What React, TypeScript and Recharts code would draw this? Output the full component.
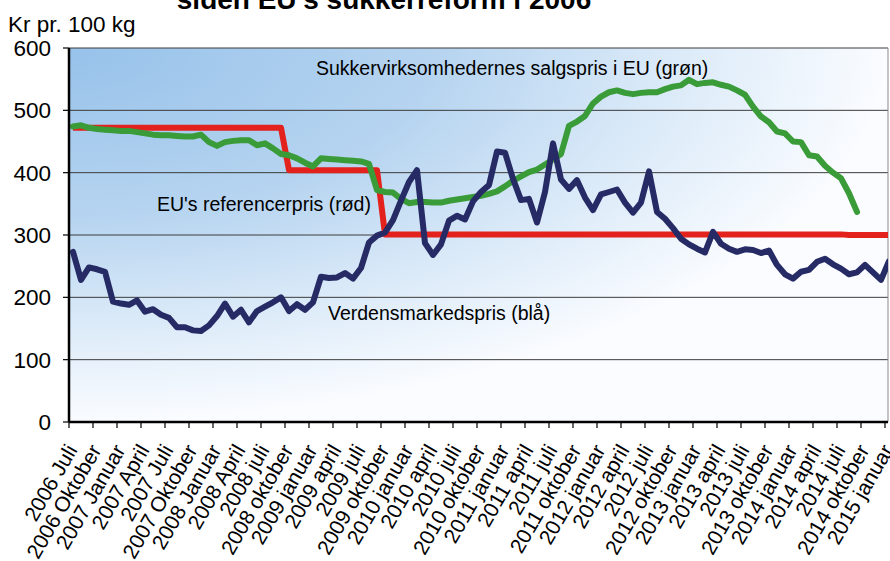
import React from 'react';
import { LineChart, Line, XAxis, YAxis, CartesianGrid, ReferenceLine } from 'recharts';

const FONT = '"Liberation Sans", Arial, sans-serif';

// quarterly tick labels, one per 3 months
const tickLabels = [
  '2006 Juli', '2006 Oktober', '2007 Januar', '2007 April', '2007 Juli', '2007 Oktober',
  '2008 Januar', '2008 April', '2008 juli', '2008 oktober', '2009 januar', '2009 april',
  '2009 juli', '2009 oktober', '2010 januar', '2010 april', '2010 juli', '2010 oktober',
  '2011 januar', '2011 april', '2011 juli', '2011 oktober', '2012 januar', '2012 april',
  '2012 juli', '2012 oktober', '2013 januar', '2013 april', '2013 juli', '2013 oktober',
  '2014 januar', '2014 april', '2014 juli', '2014 oktober', '2015 januar',
];

// monthly values, Kr pr. 100 kg, from juli 2006
const worldPrice = [
  273, 228, 248, 245, 241, 193, 190, 188, 195, 177, 181, 172, 167, 152, 152, 147, 146, 155,
  170, 190, 169, 180, 160, 178, 185, 192, 200, 178, 189, 180, 192, 233, 231, 232, 239, 230,
  247, 288, 299, 304, 324, 355, 385, 404, 287, 268, 285, 323, 331, 325, 354, 369, 380, 434,
  432, 390, 356, 358, 320, 369, 447, 389, 374, 388, 360, 340, 365, 369, 373, 352, 336, 352,
  402, 337, 326, 311, 294, 285, 278, 272, 305, 286, 278, 273, 277, 276, 271, 275, 252, 237,
  230, 241, 244, 257, 262, 253, 246, 237, 240, 252, 240, 228, 258,
];

const refPrice = [
  472, 472, 472, 472, 472, 472, 472, 472, 472, 472, 472, 472, 472, 472, 472, 472, 472, 472,
  472, 472, 472, 472, 472, 472, 472, 472, 472, 404, 404, 404, 404, 404, 404, 404, 404, 404,
  404, 404, 404, 301, 301, 301, 301, 301, 301, 301, 301, 301, 301, 301, 301, 301, 301, 301,
  301, 301, 301, 301, 301, 301, 301, 301, 301, 301, 301, 301, 301, 301, 301, 301, 301, 301,
  301, 301, 301, 301, 301, 301, 301, 301, 301, 301, 301, 301, 301, 301, 301, 301, 301, 301,
  301, 301, 301, 301, 301, 301, 301, 300, 300, 300, 300, 300, 300,
];

const euPrice = [
  474, 476, 472, 470, 469, 468, 467, 467, 465, 463, 461, 460, 460, 459, 458, 458, 461, 449,
  443, 449, 451, 452, 452, 444, 447, 439, 430, 428, 423, 416, 410, 423, 422, 421, 420, 419,
  418, 414, 372, 369, 368, 358, 351, 353, 353, 352, 352, 355, 357, 359, 361, 363, 366, 370,
  378, 387, 394, 401, 405, 413, 421, 430, 475, 482, 491, 511, 522, 529, 532, 528, 526, 528,
  529, 529, 534, 538, 540, 549, 542, 544, 545, 541, 538, 532, 525, 506, 490, 481, 466, 463,
  450, 449, 428, 426, 411, 400, 391, 367, 337,
];

const data = worldPrice.map((v, k) => ({
  k,
  world: v,
  ref: refPrice[k],
  eu: k < euPrice.length ? euPrice[k] : null,
}));

const xTicks = tickLabels.map((_, i) => i * 3 - 0.5);

const MonthTick = (props: any) => {
  const { x, y, payload } = props;
  const i = Math.round((payload.value + 0.5) / 3);
  const tx = x + 9;
  const ty = y + 20;
  return (
    <text
      x={tx}
      y={ty}
      transform={`rotate(-60 ${tx} ${ty})`}
      textAnchor="end"
      fontSize={21}
      fontFamily={FONT}
      fill="#000"
    >
      {tickLabels[i]}
    </text>
  );
};

export default function App() {
  return (
    <div style={{ position: 'absolute', left: 0, top: 0, width: 890, height: 561, background: '#fff', fontFamily: FONT }}>
      <LineChart width={890} height={561} data={data} margin={{ top: 48, right: 2, left: 0, bottom: 0 }}>
        <defs>
          <radialGradient id="plotBg" cx="0" cy="0" r="1" fx="0" fy="0">
            <stop offset="0%" stopColor="#97c2ea" />
            <stop offset="45%" stopColor="#b6d4f0" />
            <stop offset="72%" stopColor="#d9e9f8" />
            <stop offset="100%" stopColor="#fafcff" />
          </radialGradient>
        </defs>
        <CartesianGrid vertical={false} stroke="#3c3c3c" strokeWidth={1} fill="url(#plotBg)" fillOpacity={1} />
        <XAxis
          dataKey="k"
          type="number"
          domain={[-0.5, 101.875]}
          allowDataOverflow
          ticks={xTicks}
          interval={0}
          tick={<MonthTick />}
          tickSize={6}
          height={139}
          axisLine={{ stroke: '#000', strokeWidth: 2.5 }}
          tickLine={{ stroke: '#000', strokeWidth: 1.2 }}
        />
        <YAxis
          type="number"
          domain={[0, 600]}
          ticks={[0, 100, 200, 300, 400, 500, 600]}
          width={69}
          tickSize={6}
          tickMargin={12}
          tick={{ fontSize: 22.5, fill: '#000', fontFamily: FONT }}
          axisLine={{ stroke: '#000', strokeWidth: 2.5 }}
          tickLine={{ stroke: '#000', strokeWidth: 1.2 }}
        />
        <ReferenceLine x={101.875} stroke="#8a8a8a" strokeWidth={1} />
        <Line type="linear" dataKey="ref" stroke="#e3211d" strokeWidth={6} dot={false} strokeLinejoin="round" isAnimationActive={false} />
        <Line type="linear" dataKey="eu" stroke="#3a9b39" strokeWidth={6} dot={false} strokeLinejoin="round" strokeLinecap="round" isAnimationActive={false} />
        <Line type="linear" dataKey="world" stroke="#262b66" strokeWidth={6} dot={false} strokeLinejoin="round" strokeLinecap="round" isAnimationActive={false} />
      </LineChart>
      <svg width={890} height={561} style={{ position: 'absolute', left: 0, top: 0, pointerEvents: 'none' }}>
        <text x={384} y={9} textAnchor="middle" fontSize={28} fontWeight="bold" fontFamily={FONT} fill="#000">
          siden EU's sukkerreform i 2006
        </text>
        <text x={8} y={32} fontSize={22.5} fontFamily={FONT} fill="#000">Kr pr. 100 kg</text>
        <text x={316} y={75} fontSize={19.5} fontFamily={FONT} fill="#000">Sukkervirksomhedernes salgspris i EU (grøn)</text>
        <text x={157} y={211} fontSize={19.5} fontFamily={FONT} fill="#000">EU's referencerpris (rød)</text>
        <text x={328} y={320} fontSize={19.5} fontFamily={FONT} fill="#000">Verdensmarkedspris (blå)</text>
      </svg>
    </div>
  );
}
